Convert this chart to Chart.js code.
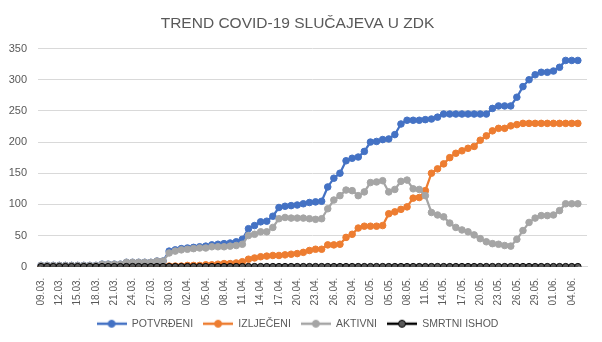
<!DOCTYPE html>
<html>
<head>
<meta charset="utf-8">
<script src="https://cdn.jsdelivr.net/npm/chart.js@4/dist/chart.umd.min.js"></script>
<style>
  html, body { margin: 0; padding: 0; background: #fff; }
  #wrap { width: 602px; height: 342px; }
</style>
</head>
<body>
<div id="wrap"><canvas id="trendChart" width="602" height="342"></canvas></div>
<script>
// one category per day; the last day has no values yet
const dates = [
    '09.03.', '10.03.', '11.03.', '12.03.', '13.03.', '14.03.', '15.03.', '16.03.', '17.03.', '18.03.',
    '19.03.', '20.03.', '21.03.', '22.03.', '23.03.', '24.03.', '25.03.', '26.03.', '27.03.', '28.03.',
    '29.03.', '30.03.', '31.03.', '01.04.', '02.04.', '03.04.', '04.04.', '05.04.', '06.04.', '07.04.',
    '08.04.', '09.04.', '10.04.', '11.04.', '12.04.', '13.04.', '14.04.', '15.04.', '16.04.', '17.04.',
    '18.04.', '19.04.', '20.04.', '21.04.', '22.04.', '23.04.', '24.04.', '25.04.', '26.04.', '27.04.',
    '28.04.', '29.04.', '30.04.', '01.05.', '02.05.', '03.05.', '04.05.', '05.05.', '06.05.', '07.05.',
    '08.05.', '09.05.', '10.05.', '11.05.', '12.05.', '13.05.', '14.05.', '15.05.', '16.05.', '17.05.',
    '18.05.', '19.05.', '20.05.', '21.05.', '22.05.', '23.05.', '24.05.', '25.05.', '26.05.', '27.05.',
    '28.05.', '29.05.', '30.05.', '31.05.', '01.06.', '02.06.', '03.06.', '04.06.', '05.06.', '06.06.'
];

const potvrdeni = [
    2, 2, 2, 2, 2, 2, 2, 2, 2, 2,
    4, 4, 4, 4, 7, 7, 7, 7, 7, 9,
    9, 25, 27, 29, 30, 31, 32, 33, 35, 36,
    37, 38, 40, 44, 61, 66, 72, 73, 81, 95,
    97, 98, 99, 101, 103, 104, 105, 128, 142, 150,
    170, 174, 176, 185, 200, 201, 204, 205, 212, 229,
    235, 235, 235, 236, 237, 240, 245, 245, 245, 245,
    245, 245, 245, 245, 254, 258, 258, 258, 272, 289,
    300, 308, 312, 312, 314, 320, 331, 331, 331
];

const izlijeceni = [
    0, 0, 0, 0, 0, 0, 0, 0, 0, 0,
    0, 0, 0, 0, 0, 0, 0, 0, 0, 0,
    0, 1, 1, 1, 2, 2, 2, 3, 3, 4,
    5, 5, 6, 8, 12, 14, 16, 17, 18, 18,
    19, 20, 21, 23, 26, 28, 28, 35, 35, 36,
    47, 52, 62, 65, 65, 65, 66, 85, 88, 92,
    96, 110, 111, 122, 150, 157, 165, 175, 182, 186,
    190, 193, 203, 210, 218, 222, 222, 226, 228, 230,
    230, 230, 230, 230, 230, 230, 230, 230, 230
];

const aktivni = [
    2, 2, 2, 2, 2, 2, 2, 2, 2, 2,
    4, 4, 4, 4, 7, 7, 7, 7, 7, 9,
    9, 22, 25, 27, 28, 29, 30, 30, 32, 32,
    32, 33, 34, 36, 50, 52, 56, 56, 63, 77,
    79, 78, 78, 78, 77, 76, 77, 93, 107, 114,
    123, 122, 114, 120, 135, 136, 138, 120, 124, 137,
    139, 125, 124, 114, 87, 83, 80, 70, 63, 59,
    56, 51, 45, 40, 37, 36, 34, 33, 44, 58,
    71, 78, 82, 82, 83, 90, 101, 101, 101
];

const smrtniIshod = [
    0, 0, 0, 0, 0, 0, 0, 0, 0, 0,
    0, 0, 0, 0, 0, 0, 0, 0, 0, 0,
    0, 0, 0, 0, 0, 0, 0, 0, 0, 0,
    0, 0, 0, 0, 0, 0, 0, 0, 0, 0,
    0, 0, 0, 0, 0, 0, 0, 0, 0, 0,
    0, 0, 0, 0, 0, 0, 0, 0, 0, 0,
    0, 0, 0, 0, 0, 0, 0, 0, 0, 0,
    0, 0, 0, 0, 0, 0, 0, 0, 0, 0,
    0, 0, 0, 0, 0, 0, 0, 0, 0
];

const yTicks = [0, 50, 100, 150, 200, 250, 300, 350];

const textColor = '#595959';
const gridColor = '#d9d9d9';

// legend icon: a short line with a marker in the middle
function legendIcon(lineColor, fill, border) {
    const c = document.createElement('canvas');
    c.width = 30;
    c.height = 10;
    const g = c.getContext('2d');
    g.strokeStyle = lineColor;
    g.lineWidth = 2.5;
    g.beginPath();
    g.moveTo(0, 5);
    g.lineTo(30, 5);
    g.stroke();
    g.beginPath();
    g.arc(15, 5, 3.5, 0, Math.PI * 2);
    g.fillStyle = fill;
    g.fill();
    g.lineWidth = 1;
    g.strokeStyle = border;
    g.stroke();
    return c;
}

function series(label, data, line, fill, border, order) {
    return {
        label: label,
        data: data,
        borderColor: line,
        borderWidth: 2.25,
        pointRadius: 3.3,
        pointBackgroundColor: fill,
        pointBorderColor: border,
        pointBorderWidth: 1,
        tension: 0,
        order: order,
        icon: legendIcon(line, fill, border)
    };
}

const ctxTrend = document.getElementById('trendChart').getContext('2d');
const trendChart = new Chart(ctxTrend, {
    type: 'line',
    data: {
        labels: dates,
        datasets: [
            series('POTVRĐENI', potvrdeni, '#4472C4', '#4472C4', '#4472C4', 4),
            series('IZLJEČENI', izlijeceni, '#ED7D31', '#ED7D31', '#ED7D31', 3),
            series('AKTIVNI', aktivni, '#A5A5A5', '#A5A5A5', '#A5A5A5', 2),
            series('SMRTNI ISHOD', smrtniIshod, '#000000', '#5a5a5a', '#000000', 1)
        ]
    },
    options: {
        responsive: false,
        animation: false,
        layout: {
            padding: { left: 8, right: 15, top: 0, bottom: 3 }
        },
        plugins: {
            title: {
                display: true,
                text: 'TREND COVID-19 SLUČAJEVA U ZDK',
                color: textColor,
                font: { family: 'Liberation Sans', size: 15.5, weight: 'normal' },
                padding: { top: 14, bottom: 16 }
            },
            legend: {
                position: 'bottom',
                labels: {
                    color: textColor,
                    font: { family: 'Liberation Sans', size: 10.5 },
                    usePointStyle: true,
                    pointStyleWidth: 30,
                    padding: 10,
                    sort: (a, b) => a.datasetIndex - b.datasetIndex,
                    generateLabels: (chart) => {
                        const items = Chart.defaults.plugins.legend.labels.generateLabels(chart);
                        items.forEach(item => {
                            item.pointStyle = chart.data.datasets[item.datasetIndex].icon;
                        });
                        return items;
                    }
                }
            },
            tooltip: { enabled: false }
        },
        scales: {
            x: {
                offset: true,
                grid: { display: false },
                border: { color: gridColor },
                ticks: {
                    color: textColor,
                    font: { family: 'Liberation Sans', size: 10 },
                    autoSkip: false,
                    minRotation: 90,
                    maxRotation: 90,
                    padding: 3,
                    callback: function (value, index) {
                        return index % 3 === 0 ? dates[index] : '';
                    }
                }
            },
            y: {
                min: yTicks[0],
                max: yTicks[yTicks.length - 1],
                grid: { color: gridColor, drawTicks: false },
                border: { display: false },
                afterBuildTicks: (axis) => {
                    axis.ticks = yTicks.map(v => ({ value: v }));
                },
                afterFit: (axis) => {
                    axis.width = 30;
                },
                ticks: {
                    color: textColor,
                    font: { family: 'Liberation Sans', size: 11 },
                    padding: 11
                }
            }
        }
    }
});
</script>
</body>
</html>
